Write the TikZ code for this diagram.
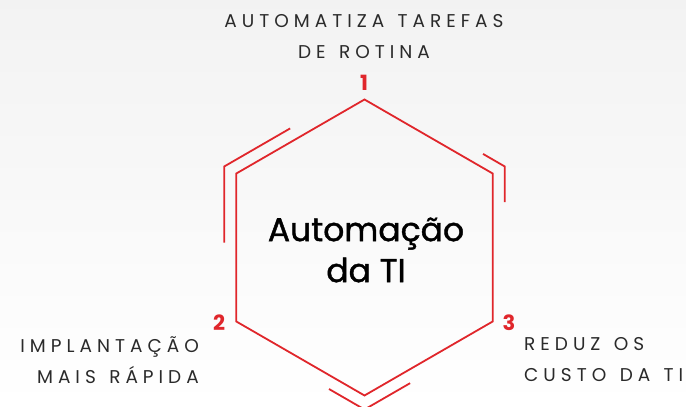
\documentclass[tikz,border=0pt]{standalone}
\usepackage{fontspec}
\setmainfont{Poppins}
\newfontfamily\labelfont{Poppins}[LetterSpace=27, WordSpace=1.35]
\usetikzlibrary{shapes.geometric, calc, positioning}
\definecolor{hexred}{HTML}{E0262B}
\definecolor{txtgray}{HTML}{2A2A2A}
\begin{document}
\begin{tikzpicture}[x=1pt, y=1pt,
    hexline/.style={draw=hexred, line width=1.8pt},
    accent/.style={draw=hexred, line width=1.8pt},
    numlabel/.style={text=hexred, font=\fontsize{21}{21}\selectfont\bfseries, inner sep=0pt},
    sidelabel/.style={text=txtgray, inner sep=0pt,
      font=\labelfont\fontsize{18.5}{31}\selectfont}]
      \useasboundingbox (0,0) rectangle (686,407);
      \shade[top color=black!5, bottom color=white] (0,0) rectangle (686,407);
      \clip (0,0) rectangle (686,407);

      % Hexagon
      \coordinate (c) at (364.5,159.5);
      \node (hex) [regular polygon, regular polygon sides=6, regular polygon rotate=30,
        minimum size=296pt, inner sep=0pt, hexline] at (c) {};
      \node (title) [text=black, align=center,
        font=\fontsize{33}{41}\selectfont\addfontfeature{FakeBold=1.2}] at (366,157) {Automação\\da TI};

      % Outer corners
      \foreach \a/\n in {90/t, 150/ul, 210/ll, 270/b, 330/lr, 30/ur}
        \coordinate (o\n) at ($(c)+(\a:162)$);
      \draw[accent] ($(ot)!0.53!(oul)$) -- (oul) -- ($(oul)!0.47!(oll)$);
      \draw[accent] ($(ot)!0.845!(our)$) -- (our) -- ($(our)!0.22!(olr)$);
      \draw[accent] ($(ob)!0.253!(oll)$) -- (ob) -- ($(ob)!0.325!(olr)$);

      % Numbers
      \node (num1) [numlabel] at (364,324.5) {1};
      \node (num2) [numlabel] at (219,84) {2};
      \node (num3) [numlabel] at (509,84) {3};

      % Labels
      \node (lab1) [sidelabel, align=center] at (364,370) {AUTOMATIZA TAREFAS\\DE ROTINA};
      \node (lab2) [sidelabel, align=right, anchor=east] at (199,47) {IMPLANTAÇÃO\\MAIS RÁPIDA};
      \node (lab3) [sidelabel, align=left, anchor=west] at (524,47) {REDUZ OS\\CUSTO DA TI};
   \end{tikzpicture}
\end{document}
